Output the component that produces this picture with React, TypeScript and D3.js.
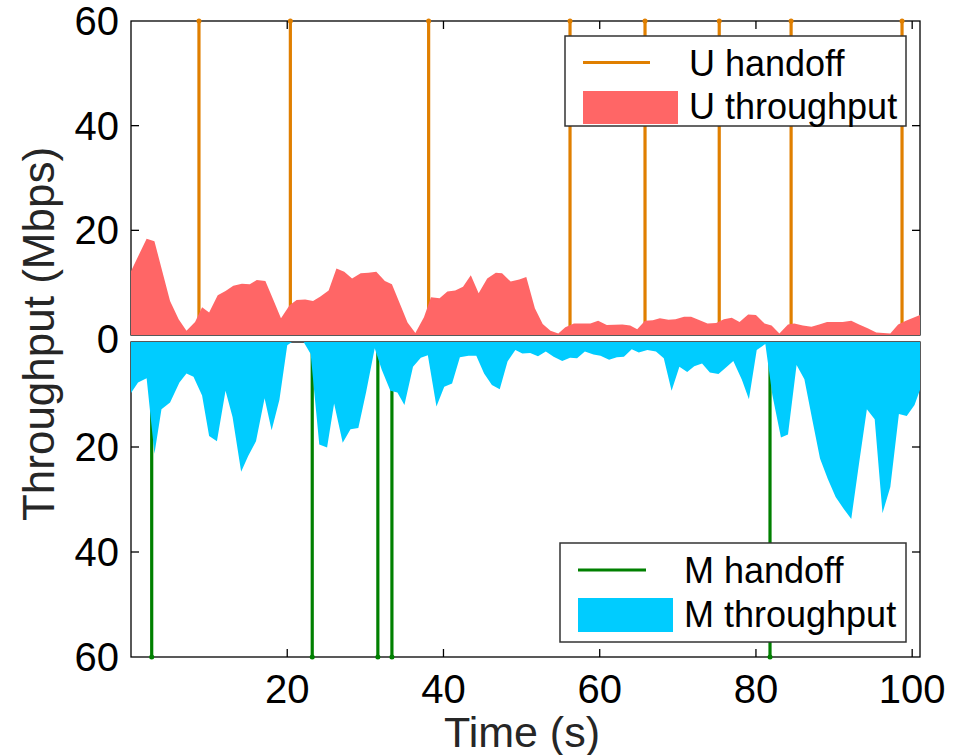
import * as d3 from "d3";

// Throughput samples (time in s, throughput in Mbps)
const uTime = [
  0, 2.0, 3.0, 5.0, 6.1, 7.1, 8.2, 9.1, 10.0, 11.1, 12.1, 13.1, 14.2, 15.2, 16.1, 17.2, 18.2, 19.2, 20.3,
  21.2, 22.3, 23.3, 24.2, 25.3, 26.3, 27.3, 28.3, 29.4, 30.4, 31.4, 32.5, 33.4, 34.5, 35.4, 36.4, 37.5,
  38.4, 39.5, 40.5, 41.5, 42.5, 43.5, 44.5, 45.6, 46.7, 47.5, 48.6, 49.7, 50.6, 51.7, 52.7, 53.7, 54.7,
  55.6, 56.7, 58.8, 59.8, 60.9, 62.9, 63.9, 64.8, 65.8, 66.8, 67.7, 68.8, 69.7, 70.8, 71.7, 72.8, 73.8,
  74.9, 75.9, 76.9, 77.9, 79.0, 80.0, 81.1, 82.0, 83.0, 84.1, 84.9, 86.0, 87.1, 88.1, 89.1, 91.1, 92.2,
  93.2, 94.3, 95.4, 97.2, 98.2, 99.2, 101,
];
const uThroughput = [
  12.2, 18.4, 17.9, 6.5, 3.0, 0.8, 2.5, 5.3, 4.3, 7.6, 8.4, 9.4, 9.8, 9.7, 10.5, 10.3, 6.8, 3.2, 5.7,
  6.7, 6.8, 6.5, 7.3, 8.5, 12.7, 12.1, 10.8, 11.8, 11.9, 12.1, 10.3, 9.7, 5.7, 2.4, 0.4, 3.4,
  7.2, 7.0, 8.3, 8.5, 9.2, 11.4, 8.0, 10.8, 11.9, 11.8, 10.2, 10.6, 11.1, 5.1, 2.1, 0.8, 0.3,
  1.5, 2.2, 2.2, 2.7, 1.9, 2.0, 1.8, 1.1, 2.7, 2.8, 3.2, 2.9, 3.0, 3.5, 3.5, 2.8, 2.2,
  2.3, 3.0, 3.3, 2.5, 3.9, 3.8, 2.2, 1.8, 0.3, 2.0, 2.2, 1.8, 1.6, 2.0, 2.5, 2.5, 2.7,
  2.0, 1.3, 0.5, 0.3, 2.0, 2.7, 3.8,
];

const mTime = [
  0, 0.9, 2.0, 3.0, 3.9, 5.0, 6.2, 7.1, 8.0, 9.1, 10.0, 11.0, 12.1, 13.0, 14.1, 15.0, 16.0, 17.1, 18.0,
  19.0, 20.0, 20.6, 22.1, 23.0, 24.1, 25.1, 26.0, 27.1, 28.1, 29.1, 30.1, 31.2, 32.1, 33.2, 34.1, 35.0,
  36.1, 37.1, 38.0, 39.1, 40.1, 41.1, 42.1, 43.2, 44.2, 45.2, 46.2, 47.2, 48.2, 49.2, 50.1, 51.1, 52.1,
  53.1, 54.1, 55.2, 56.2, 57.1, 58.1, 59.2, 60.1, 61.2, 62.2, 63.1, 64.1, 65.0, 66.1, 67.2, 68.2, 69.2,
  70.2, 71.2, 72.1, 73.1, 74.1, 75.2, 76.2, 77.1, 78.2, 79.1, 80.1, 81.2, 82.1, 83.2, 84.1, 85.2, 86.2,
  87.2, 88.2, 89.2, 90.2, 91.2, 92.2, 93.2, 94.2, 95.2, 96.2, 97.2, 98.3, 99.3, 100.3, 101,
];
const mThroughput = [
  9.7, 7.7, 6.9, 21.3, 12.8, 11.5, 7.7, 6.0, 6.6, 10.2, 17.9, 18.9, 9.3, 14.3, 24.7, 21.7, 18.9, 10.7, 16.8,
  11.0, 0.6, 0, 0, 2.3, 19.5, 20.1, 11.7, 19.2, 16.6, 16.4, 9.5, 1.2, 5.3, 9.3, 9.6, 12.0,
  4.7, 3.0, 2.5, 12.3, 8.5, 7.9, 2.9, 2.6, 2.6, 6.0, 8.2, 9.0, 3.7, 1.5, 2.2, 2.1, 2.7,
  1.8, 2.8, 3.6, 3.0, 3.1, 1.8, 2.4, 2.6, 3.4, 2.9, 2.8, 1.4, 2.0, 1.5, 1.8, 3.1, 9.3,
  4.7, 5.7, 4.6, 4.1, 5.8, 6.1, 4.8, 3.6, 7.2, 10.9, 1.5, 0.4, 10.1, 18.2, 17.6, 4.4, 7.1,
  14.7, 22.2, 26.1, 29.5, 31.7, 33.7, 23.1, 12.8, 14.7, 32.6, 27.6, 13.7, 14.1, 12.0, 9.1,
];

const uHandoffs = [8.7, 20.4, 38.1, 56.2, 65.8, 75.3, 84.5, 98.7];
const mHandoffs = [2.65, 23.2, 31.6, 33.4, 81.8];

const xTicks = [20, 40, 60, 80, 100];
const yTicks = [0, 20, 40, 60];

const FONT = "'Liberation Sans', Arial, Helvetica, sans-serif";
const ORANGE = "#e07f00";
const GREEN = "#008000";
const RED = "#ff6666";
const BLUE = "#00ccff";

export default function App() {
  const W = 974;
  const H = 755;
  const left = 131;
  const right = 920;

  const x = d3.scaleLinear().domain([0, 101]).range([left, right]);
  const yTop = d3.scaleLinear().domain([0, 60]).range([335, 21]);
  const yBot = d3.scaleLinear().domain([0, 60]).range([342, 657]);

  const uData = uTime.map((t, i) => ({ t, v: uThroughput[i] }));
  const mData = mTime.map((t, i) => ({ t, v: mThroughput[i] }));

  const uArea = d3
    .area<{ t: number; v: number }>()
    .x((d) => x(d.t))
    .y0(yTop(0))
    .y1((d) => yTop(d.v));
  const mArea = d3
    .area<{ t: number; v: number }>()
    .x((d) => x(d.t))
    .y0(yBot(0))
    .y1((d) => yBot(d.v));

  const tickLen = 8;

  // panel frame + inward ticks
  const panel = (y: d3.ScaleLinear<number, number>, key: string) => {
    const y0 = y(0);
    const y60 = y(60);
    const dir = y60 < y0 ? 1 : -1; // towards the inside from the 60 edge
    return (
      <g key={key} stroke="#000" strokeWidth={1.3} fill="none">
        <rect x={left} y={Math.min(y0, y60)} width={right - left} height={Math.abs(y60 - y0)} />
        {[20, 40].map((v) => (
          <g key={v}>
            <line x1={left} x2={left + tickLen} y1={y(v)} y2={y(v)} />
            <line x1={right} x2={right - tickLen} y1={y(v)} y2={y(v)} />
          </g>
        ))}
        {xTicks.map((t) => (
          <line key={t} x1={x(t)} x2={x(t)} y1={y60} y2={y60 + dir * tickLen} />
        ))}
      </g>
    );
  };

  return (
    <svg
      width={W}
      height={H}
      style={{ position: "absolute", left: 0, top: 0, background: "#fff" }}
      fontFamily={FONT}
    >
      <defs>
        <clipPath id="clipTop">
          <rect x={left} y={yTop(60)} width={right - left} height={yTop(0) - yTop(60)} />
        </clipPath>
        <clipPath id="clipBot">
          <rect x={left} y={yBot(0)} width={right - left} height={yBot(60) - yBot(0)} />
        </clipPath>
      </defs>

      {panel(yTop, "top")}
      {panel(yBot, "bot")}

      {/* handoff lines, behind the throughput areas */}
      {uHandoffs.map((t) => (
        <g key={"u" + t}>
          <line x1={x(t)} x2={x(t)} y1={yTop(0)} y2={yTop(60)} stroke={ORANGE} strokeWidth={3.2} />
          <circle cx={x(t)} cy={yTop(60)} r={2.5} fill={ORANGE} />
        </g>
      ))}
      {mHandoffs.map((t) => (
        <g key={"m" + t}>
          <line x1={x(t)} x2={x(t)} y1={yBot(0)} y2={yBot(60)} stroke={GREEN} strokeWidth={3.2} />
          <circle cx={x(t)} cy={yBot(60)} r={2.5} fill={GREEN} />
        </g>
      ))}

      <path d={uArea(uData) ?? ""} fill={RED} clipPath="url(#clipTop)" />
      <path d={mArea(mData) ?? ""} fill={BLUE} clipPath="url(#clipBot)" />

      {/* y tick labels */}
      <g fontSize={40} textAnchor="end" fill="#000">
        {yTicks
          .filter((v) => v > 0)
          .map((v) => (
            <text key={"yt" + v} x={119} y={yTop(v)} dominantBaseline="central">
              {v}
            </text>
          ))}
        <text x={119} y={(yTop(0) + yBot(0)) / 2} dominantBaseline="central">
          0
        </text>
        {yTicks
          .filter((v) => v > 0)
          .map((v) => (
            <text key={"yb" + v} x={119} y={yBot(v)} dominantBaseline="central">
              {v}
            </text>
          ))}
      </g>

      {/* x tick labels */}
      <g fontSize={40} textAnchor="middle" fill="#000">
        {xTicks.map((t) => (
          <text key={t} x={x(t)} y={703}>
            {t}
          </text>
        ))}
      </g>

      <text x={522} y={747} fontSize={43} textAnchor="middle" fill="#262626">
        Time (s)
      </text>
      <text
        transform="translate(54,334) rotate(-90)"
        fontSize={44}
        textAnchor="middle"
        fill="#262626"
      >
        Throughput (Mbps)
      </text>

      {/* U legend */}
      <g>
        <rect x={565} y={36} width={341} height={90} fill="#fff" stroke="#333" strokeWidth={1.5} />
        <line x1={583} x2={650} y1={62.5} y2={62.5} stroke={ORANGE} strokeWidth={3} />
        <rect x={583} y={91} width={95} height={33} fill={RED} />
        <text x={689} y={76} fontSize={36} fill="#000">
          U handoff
        </text>
        <text x={689} y={119} fontSize={36} fill="#000">
          U throughput
        </text>
      </g>

      {/* M legend */}
      <g>
        <rect x={560} y={543} width={346} height={99} fill="#fff" stroke="#333" strokeWidth={1.5} />
        <line x1={578} x2={646} y1={570} y2={570} stroke={GREEN} strokeWidth={3} />
        <rect x={578} y={598} width={95} height={34} fill={BLUE} />
        <text x={684} y={583} fontSize={36} fill="#000">
          M handoff
        </text>
        <text x={684} y={627} fontSize={36} fill="#000">
          M throughput
        </text>
      </g>
    </svg>
  );
}
